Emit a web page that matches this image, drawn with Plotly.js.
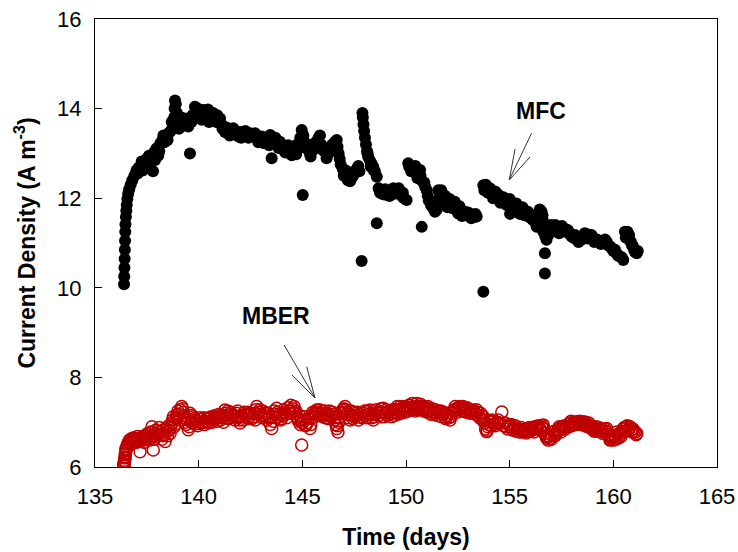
<!DOCTYPE html>
<html>
<head>
<meta charset="utf-8">
<script src="https://cdn.plot.ly/plotly-3.0.1.min.js"></script>
<style>html,body{margin:0;padding:0;background:#fff;}#chart{width:738px;height:552px;}</style>
</head>
<body>
<div id="chart"></div>
<script>
// MFC current density (A m-3) vs time (days)
var mfcDay = [136.40,136.41,136.42,136.43,136.44,136.45,136.46,136.47,136.49,136.51,136.53,136.56,136.60,136.65,136.72,136.80,136.90,137.00,137.10,137.20,137.30,137.40,137.50,137.60,137.70,137.80,137.85,137.95,138.05,138.15,138.25,138.35,138.45,138.55,138.65,138.75,138.82,138.84,138.86,138.90,138.95,139.00,139.10,139.20,139.30,139.42,139.58,139.55,139.70,139.82,139.90,140.00,140.10,140.22,140.35,140.50,140.60,140.70,140.80,140.90,141.03,141.15,141.27,141.40,141.55,141.67,141.80,141.90,142.00,142.15,142.30,142.48,142.64,142.80,142.96,143.12,143.30,143.45,143.52,143.60,143.75,143.92,144.08,144.25,144.40,144.49,144.60,144.75,144.90,144.97,145.02,145.10,145.25,145.37,145.40,145.50,145.65,145.77,145.90,146.05,146.17,146.33,146.45,146.58,146.66,146.75,146.85,146.95,147.05,147.15,147.30,147.45,147.62,147.75,147.86,147.90,147.92,147.95,147.98,148.02,148.07,148.12,148.18,148.25,148.33,148.42,148.50,148.59,148.59,148.68,148.75,148.85,148.95,149.05,149.15,149.25,149.39,149.50,149.60,149.70,149.80,149.90,150.03,150.11,150.20,150.30,150.40,150.50,150.60,150.68,150.76,150.75,150.84,150.92,151.00,151.10,151.20,151.30,151.40,151.48,151.56,151.65,151.75,151.85,151.95,152.05,152.15,152.28,152.40,152.52,152.65,152.77,152.90,153.05,153.20,153.30,153.41,153.73,153.73,153.80,153.90,154.00,154.10,154.25,154.37,154.50,154.62,154.75,154.90,155.02,155.10,155.25,155.40,155.55,155.66,155.80,155.95,156.10,156.25,156.30,156.40,156.54,156.60,156.62,156.70,156.70,156.78,156.85,157.00,157.15,157.30,157.45,157.59,157.75,157.90,158.05,158.23,158.40,158.55,158.70,158.87,159.00,159.15,159.30,159.52,159.68,159.85,160.00,160.16,160.30,160.48,160.56,160.64,160.72,160.80,160.90,161.00,161.13];
var mfcCurrent = [10.08,10.25,10.45,10.65,10.85,11.05,11.25,11.42,11.58,11.72,11.85,11.98,12.10,12.20,12.30,12.40,12.50,12.62,12.68,12.72,12.62,12.80,12.88,12.95,12.90,12.60,13.02,13.10,12.95,13.22,13.30,13.25,13.38,13.45,13.50,13.55,13.80,14.00,14.18,14.10,13.90,13.75,13.65,13.70,13.62,13.68,13.00,13.75,13.85,14.04,13.90,13.80,13.90,13.97,13.92,13.70,13.88,13.90,13.80,13.85,13.78,13.55,13.48,13.45,13.52,13.56,13.42,13.38,13.48,13.45,13.40,13.45,13.41,13.35,13.30,13.23,13.35,13.41,12.89,13.34,13.20,13.26,13.08,13.15,13.04,12.96,13.05,13.20,13.35,13.52,12.07,13.25,13.10,13.00,12.93,13.15,13.25,13.34,13.20,13.05,12.89,13.04,13.20,13.26,13.30,13.00,12.75,12.65,12.55,12.45,12.38,12.50,12.65,12.60,10.60,13.90,13.80,13.65,13.50,13.35,13.20,13.05,12.92,12.85,12.78,12.70,12.60,12.48,11.44,12.22,12.12,12.10,12.08,12.12,12.10,12.15,12.22,12.18,12.12,12.15,12.05,12.00,11.96,12.78,12.72,12.70,12.65,12.60,12.50,12.63,11.36,12.40,12.35,12.26,12.18,11.95,11.85,11.78,11.70,11.74,12.18,12.12,12.05,11.98,11.90,11.92,11.85,11.89,11.80,11.66,11.72,11.66,11.62,11.60,11.63,11.58,11.59,12.29,9.91,12.25,12.20,12.15,12.12,12.08,12.11,12.02,11.98,11.95,11.92,11.65,11.90,11.82,11.78,11.72,11.74,11.65,11.58,11.52,11.45,11.36,11.60,11.70,11.50,11.25,10.77,10.32,11.07,11.30,11.40,11.35,11.28,11.30,11.33,11.30,11.20,11.12,11.07,11.12,11.15,11.20,11.18,11.10,11.05,11.02,11.00,11.03,10.92,10.82,10.77,10.70,10.62,11.25,11.20,11.12,11.05,10.95,10.85,10.77];
// further MFC readings in between (thickness of the point band)
var mfcDayMore = [137.05,137.25,137.45,137.65,137.90,138.00,138.10,138.30,138.50,138.70,139.05,139.15,139.35,139.50,139.65,139.95,140.15,140.30,140.45,140.65,140.85,141.10,141.35,141.50,141.75,142.05,142.25,142.40,142.55,142.72,142.88,143.05,143.20,143.40,143.70,143.85,144.00,144.18,144.32,144.55,144.70,144.85,145.05,145.18,145.30,145.45,145.60,145.85,146.00,146.25,146.40,146.52,146.70,146.80,147.00,147.10,147.20,147.38,147.55,147.70,148.15,148.30,148.45,148.80,149.00,149.20,149.45,149.65,149.85,150.15,150.25,150.45,150.55,150.70,150.88,151.05,151.25,151.60,151.70,151.80,151.90,152.00,152.10,152.22,152.35,152.45,152.58,152.70,152.85,153.00,153.15,153.35,153.78,153.85,153.95,154.05,154.20,154.30,154.45,154.55,154.70,154.85,155.00,155.15,155.32,155.48,155.62,155.72,155.88,156.02,156.18,156.35,156.45,156.50,156.58,156.68,156.72,156.90,157.05,157.20,157.38,157.52,157.68,157.82,157.98,158.15,158.32,158.48,158.62,158.78,158.95,159.08,159.22,159.40,159.60,159.75,159.92,160.08,160.22,160.40,160.60,160.68,160.76,160.85,160.95,161.05,161.18];
var mfcCurrentMore = [12.55,12.82,12.70,12.78,12.85,13.12,13.05,13.40,13.30,13.70,13.55,13.80,13.78,13.60,13.70,14.00,13.75,13.85,13.98,13.75,13.70,13.65,13.58,13.40,13.50,13.35,13.50,13.35,13.38,13.45,13.25,13.38,13.30,13.18,13.35,13.12,13.20,13.02,13.18,13.12,12.98,13.12,13.40,13.18,13.20,13.05,13.10,13.40,13.15,13.00,13.10,13.15,13.15,12.88,12.50,12.62,12.40,12.45,12.60,12.72,13.00,12.70,12.62,12.18,12.20,12.05,12.10,12.22,12.12,12.70,12.60,12.72,12.45,12.50,12.35,12.05,11.90,12.00,12.18,11.90,12.05,11.80,11.98,11.78,11.92,11.72,11.82,11.60,11.70,11.68,11.55,11.65,12.18,12.30,12.12,12.22,12.00,12.15,12.08,11.90,12.02,11.85,11.98,11.78,11.88,11.65,11.80,11.62,11.70,11.60,11.62,11.55,11.75,11.40,11.62,11.40,11.15,11.20,11.28,11.40,11.22,11.38,11.25,11.28,11.15,11.18,11.02,11.08,11.22,11.10,11.18,11.02,11.08,10.98,11.08,10.95,10.88,10.85,10.72,10.68,11.12,11.25,11.18,11.02,10.92,10.80,10.82];

// MBER current density (A m-3) vs time (days)
var mberDay = [136.38,136.40,136.42,136.44,136.46,136.48,136.50,136.55,136.62,136.70,136.78,136.85,136.93,137.00,137.08,137.17,137.25,137.35,137.42,137.50,137.58,137.66,137.75,137.81,137.88,137.95,138.05,138.14,138.22,138.30,138.38,138.45,138.55,138.62,138.70,138.78,138.85,138.94,139.00,139.08,139.18,139.25,139.32,139.40,139.50,139.58,139.66,139.74,139.82,139.90,140.00,140.10,140.22,140.30,140.40,140.50,140.60,140.71,140.80,140.90,141.00,141.10,141.20,141.27,141.35,141.45,141.55,141.65,141.75,141.83,141.92,142.00,142.10,142.20,142.32,142.40,142.50,142.64,142.72,142.80,142.90,143.00,143.10,143.20,143.30,143.40,143.52,143.60,143.68,143.76,143.85,143.95,144.05,144.15,144.25,144.35,144.45,144.55,144.65,144.73,144.82,144.90,144.97,145.05,145.15,145.25,145.37,145.45,145.55,145.62,145.69,145.78,145.88,145.98,146.08,146.17,146.25,146.35,146.45,146.55,146.62,146.66,146.72,146.80,146.90,147.00,147.06,147.15,147.22,147.30,147.40,147.50,147.62,147.70,147.80,147.94,148.05,148.15,148.26,148.35,148.42,148.52,148.62,148.75,148.82,148.90,149.00,149.10,149.20,149.30,149.39,149.48,149.55,149.62,149.71,149.80,149.87,149.95,150.05,150.15,150.25,150.35,150.45,150.52,150.60,150.70,150.80,150.90,151.00,151.10,151.20,151.32,151.40,151.50,151.64,151.72,151.82,151.92,152.00,152.12,152.22,152.32,152.42,152.52,152.60,152.70,152.80,152.90,153.00,153.10,153.25,153.35,153.45,153.55,153.65,153.73,153.80,153.89,153.95,154.05,154.15,154.25,154.37,154.45,154.62,154.70,154.86,154.95,155.02,155.12,155.22,155.32,155.42,155.50,155.60,155.66,155.75,155.85,155.95,156.05,156.14,156.22,156.32,156.46,156.55,156.62,156.70,156.78,156.86,156.95,157.05,157.15,157.25,157.35,157.43,157.52,157.59,157.68,157.80,157.91,158.00,158.10,158.23,158.32,158.42,158.55,158.62,158.71,158.82,158.92,159.03,159.12,159.20,159.30,159.40,159.50,159.60,159.68,159.76,159.84,159.92,160.00,160.08,160.16,160.25,160.32,160.42,160.52,160.64,160.72,160.80,160.90,161.00,161.13];
var mberCurrent = [5.98,6.05,6.12,6.20,6.28,6.36,6.42,6.48,6.55,6.50,6.60,6.58,6.64,6.55,6.62,6.34,6.66,6.60,6.70,6.62,6.72,6.65,6.90,6.38,6.75,6.68,6.80,6.71,6.62,6.83,6.57,6.78,6.92,6.75,6.98,7.12,6.95,7.16,7.25,7.05,7.35,7.22,7.10,6.95,6.83,7.20,7.05,7.12,6.96,7.02,6.97,7.06,7.01,6.95,7.08,7.00,7.12,7.05,7.15,7.02,7.18,7.10,7.00,7.27,7.15,7.08,7.22,7.12,7.05,7.20,7.10,6.98,7.15,7.22,7.16,7.08,7.20,7.12,7.05,7.35,7.22,7.15,7.25,7.20,7.05,7.10,6.86,7.02,7.18,7.31,7.12,7.05,7.15,7.22,7.10,7.25,7.38,7.30,7.20,7.12,7.02,6.95,6.49,7.05,6.92,7.00,6.86,7.10,7.18,7.22,7.27,7.15,7.20,7.12,7.25,7.20,7.08,7.15,7.22,7.05,6.95,6.86,6.78,7.10,7.20,7.30,7.35,7.18,7.10,7.05,7.15,7.22,7.16,7.05,7.12,7.20,7.15,7.25,7.27,7.10,7.05,7.18,7.22,7.23,7.12,7.31,7.20,7.15,7.25,7.12,7.20,7.28,7.27,7.18,7.35,7.25,7.35,7.22,7.30,7.38,7.28,7.35,7.25,7.42,7.32,7.40,7.28,7.35,7.23,7.30,7.18,7.23,7.28,7.15,7.20,7.12,7.22,7.08,7.15,7.05,7.20,7.28,7.30,7.32,7.35,7.25,7.30,7.22,7.28,7.20,7.27,7.18,7.22,7.10,7.15,7.12,6.98,6.79,6.90,7.01,7.05,6.95,6.98,7.05,7.23,6.92,6.90,6.95,6.90,6.85,6.88,6.80,6.85,6.83,6.78,6.79,6.85,6.80,6.88,6.85,6.83,6.90,6.88,6.86,6.92,6.94,6.75,6.65,6.60,6.64,6.72,6.80,6.75,6.85,6.83,6.90,6.90,6.85,6.95,6.98,6.92,7.00,7.01,6.95,7.00,7.01,6.92,6.94,6.98,6.88,6.90,6.83,6.83,6.88,6.80,6.75,6.85,6.86,6.72,6.60,6.68,6.60,6.70,6.78,6.65,6.71,6.80,6.88,6.90,6.82,6.90,6.78,6.80,6.75];
// further MBER readings in between (thickness of the point band)
var mberDayMore = [136.39,136.41,136.43,136.45,136.47,136.52,136.58,136.66,136.74,136.82,136.90,136.97,137.04,137.12,137.21,137.30,137.38,137.46,137.54,137.62,137.70,137.78,137.84,137.92,138.00,138.10,138.18,138.26,138.34,138.42,138.50,138.58,138.66,138.74,138.82,138.90,138.98,139.04,139.12,139.22,139.28,139.36,139.45,139.54,139.62,139.70,139.78,139.86,139.95,140.05,140.15,140.26,140.35,140.45,140.55,140.65,140.76,140.85,140.95,141.05,141.15,141.24,141.31,141.40,141.50,141.60,141.70,141.79,141.88,141.96,142.05,142.15,142.26,142.36,142.45,142.57,142.68,142.76,142.85,142.95,143.05,143.15,143.25,143.35,143.46,143.56,143.64,143.72,143.80,143.90,144.00,144.10,144.20,144.30,144.40,144.50,144.60,144.69,144.78,144.86,144.94,145.00,145.10,145.20,145.30,145.41,145.50,145.58,145.66,145.74,145.83,145.93,146.03,146.12,146.21,146.30,146.40,146.50,146.59,146.69,146.76,146.85,146.95,147.03,147.10,147.18,147.26,147.35,147.45,147.56,147.66,147.75,147.87,148.00,148.10,148.20,148.30,148.38,148.47,148.57,148.68,148.79,148.86,148.95,149.05,149.15,149.25,149.35,149.44,149.52,149.58,149.66,149.75,149.84,149.91,150.00,150.10,150.20,150.30,150.40,150.49,150.56,150.65,150.75,150.85,150.95,151.05,151.15,151.26,151.36,151.45,151.57,151.68,151.77,151.87,151.96,152.06,152.17,152.27,152.37,152.47,152.56,152.65,152.75,152.85,152.95,153.05,153.18,153.30,153.40,153.50,153.60,153.69,153.76,153.84,153.92,154.00,154.10,154.20,154.31,154.41,154.52,154.78,154.90,155.07,155.17,155.27,155.37,155.46,155.55,155.70,155.80,155.90,156.00,156.10,156.18,156.27,156.38,156.50,156.58,156.66,156.74,156.82,156.90,157.00,157.10,157.20,157.30,157.39,157.47,157.56,157.64,157.74,157.85,157.96,158.05,158.16,158.27,158.37,158.48,158.58,158.66,158.76,158.87,158.97,159.08,159.16,159.25,159.35,159.45,159.55,159.64,159.72,159.80,159.88,159.96,160.04,160.12,160.20,160.28,160.37,160.47,160.58,160.68,160.76,160.85,160.95,161.06,161.10];
var mberCurrentMore = [6.08,6.02,6.15,6.22,6.30,6.40,6.52,6.60,6.55,6.65,6.55,6.62,6.68,6.58,6.60,6.68,6.55,6.65,6.75,6.60,6.78,6.70,6.62,6.82,6.72,6.88,6.78,6.70,6.72,6.85,6.70,6.82,6.90,7.05,6.90,7.08,7.10,7.18,7.28,7.30,7.15,7.00,7.05,6.90,7.15,6.98,7.08,7.05,6.92,7.10,6.98,7.10,7.02,6.98,7.10,7.00,7.10,7.08,7.12,7.05,7.15,7.12,7.20,7.25,7.10,7.18,7.15,7.12,7.25,7.05,7.12,7.05,7.18,7.22,7.15,7.08,7.20,7.28,7.18,7.28,7.10,7.15,7.12,7.20,6.95,7.12,7.25,7.10,7.22,7.18,7.08,7.28,7.18,7.32,7.20,7.25,7.35,7.25,7.08,7.15,7.05,6.98,7.12,6.95,7.08,6.95,7.22,7.12,7.18,7.22,7.28,7.15,7.18,7.10,7.15,7.25,7.12,7.18,7.10,6.92,7.00,7.22,7.28,7.22,7.28,7.22,7.18,7.25,7.08,7.12,7.22,7.18,7.10,7.25,7.10,7.18,7.20,7.18,7.12,7.28,7.15,7.30,7.22,7.12,7.28,7.22,7.18,7.28,7.15,7.22,7.35,7.25,7.20,7.30,7.28,7.35,7.25,7.32,7.42,7.30,7.35,7.28,7.35,7.32,7.25,7.30,7.35,7.25,7.30,7.18,7.22,7.25,7.25,7.18,7.12,7.20,7.10,7.12,7.25,7.35,7.22,7.28,7.30,7.35,7.25,7.32,7.22,7.25,7.22,7.28,7.15,7.20,7.05,7.05,6.85,6.82,6.95,6.92,7.02,6.92,7.00,6.98,6.98,6.85,6.95,6.82,6.92,6.85,6.78,6.88,6.82,6.76,6.85,6.80,6.88,6.78,6.85,6.92,6.82,6.88,6.85,6.70,6.68,6.68,6.62,6.78,6.70,6.80,6.90,6.78,6.85,6.92,6.90,6.90,7.02,6.95,6.95,7.00,7.02,6.95,6.98,7.00,6.90,6.92,6.85,6.80,6.90,6.80,6.82,6.85,6.78,6.80,6.78,6.68,6.62,6.65,6.68,6.62,6.72,6.75,6.68,6.85,6.80,6.92,6.85,6.82,6.85,6.78,6.72];

var xTickVals = [135,140,145,150,155,160,165];
var yTickVals = [6,8,10,12,14,16];

var font = 'Arial, "Liberation Sans", Helvetica, sans-serif';

var traces = [
  {x: mfcDay.concat(mfcDayMore), y: mfcCurrent.concat(mfcCurrentMore), type: 'scatter', mode: 'markers', name: 'MFC',
   marker: {symbol: 'circle', size: 12, color: '#000000', line: {width: 0}}},
  {x: mberDay.concat(mberDayMore), y: mberCurrent.concat(mberCurrentMore), type: 'scatter', mode: 'markers', name: 'MBER',
   marker: {symbol: 'circle-open', size: 12, color: '#c00000', line: {width: 1.5}}}
];

var axisBase = {
  showline: true, linecolor: '#000', linewidth: 1, mirror: true,
  ticks: 'inside', ticklen: 7, tickwidth: 1, tickcolor: '#000',
  showgrid: false, zeroline: false,
  tickfont: {family: font, size: 22, color: '#000'}
};

var layout = {
  width: 738, height: 552,
  margin: {l: 95, r: 21, t: 19, b: 85},
  paper_bgcolor: '#fff', plot_bgcolor: '#fff',
  showlegend: false,
  xaxis: Object.assign({}, axisBase, {
    range: [135, 165], tickvals: xTickVals, ticklabelstandoff: 10,
    title: {text: '<b>Time (days)</b>', font: {family: font, size: 23, color: '#000'}, standoff: 20}
  }),
  yaxis: Object.assign({}, axisBase, {
    range: [6, 16], tickvals: yTickVals, ticklabelstandoff: 8,
    title: {text: '<b>Current Density (A m<sup>-3</sup>)</b>', font: {family: font, size: 23, color: '#000'}, standoff: 15}
  }),
  annotations: [
    {x: 156.51, y: 13.95, xref: 'x', yref: 'y', text: '<b>MFC</b>', showarrow: false,
     font: {family: font, size: 23, color: '#000'}},
    {x: 143.73, y: 9.37, xref: 'x', yref: 'y', text: '<b>MBER</b>', showarrow: false,
     font: {family: font, size: 23, color: '#000'}}
  ],
  shapes: [
    {type: 'path', xref: 'x', yref: 'y', line: {color: '#333', width: 1},
     path: 'M156.06,13.455 L154.98,12.406 M155.26,13.098 L154.98,12.406 L155.98,12.92'},
    {type: 'path', xref: 'x', yref: 'y', line: {color: '#333', width: 1},
     path: 'M144.12,8.723 L145.61,7.54 M145.21,8.239 L145.61,7.54 L144.50,8.054'}
  ]
};

Plotly.newPlot('chart', traces, layout, {displayModeBar: false, staticPlot: true});
</script>
</body>
</html>
